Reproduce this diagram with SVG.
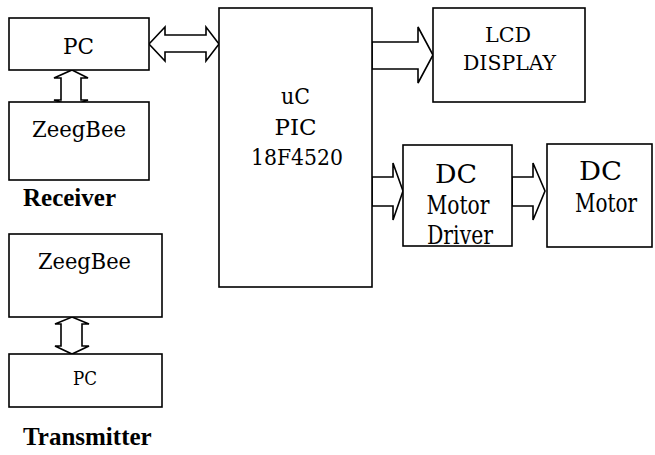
<svg xmlns="http://www.w3.org/2000/svg" width="655" height="455" viewBox="0 0 655 455">
<style>
.box{fill:#fff;stroke:#000;stroke-width:1.6}
.arr{fill:#fff;stroke:#000;stroke-width:1.6;stroke-linejoin:miter}
text{fill:#000;text-anchor:middle;font-family:'DejaVu Serif Condensed','DejaVu Serif',serif}
.b{font-family:'Liberation Serif','Times New Roman',serif;font-weight:bold;text-anchor:start}
</style>
<rect width="655" height="455" fill="#fff"/>
<g id="connectors">
<polygon class="arr" points="149,44 165,27 165,35 206,35 206,27 219,44 206,61 206,52 165,52 165,61"/>
<polygon class="arr" points="372,42 418,42 418,27 433,55 418,83 418,69 372,69"/>
<polygon class="arr" points="372,177 393,177 393,163 403,191 393,220 393,206 372,206"/>
<polygon class="arr" points="512,177 533,177 533,163 545,191 533,220 533,206 512,206"/>
<polygon class="arr" points="72,70 88,78 81,78 81,100 88,100 72,106 54,100 61,100 61,78 54,78"/>
<polygon class="arr" points="72,317 89,324 82,324 82,346 89,346 72,354 55,346 61,346 61,324 55,324"/>
</g>
<g id="pc-rx"><rect class="box" x="9" y="18" width="140" height="52"/><text x="78.5" y="54" font-size="22" textLength="31" lengthAdjust="spacingAndGlyphs">PC</text></g>
<g id="zeegbee-rx"><rect class="box" x="9" y="102" width="140" height="78"/><text x="79" y="137" font-size="21.5" textLength="94" lengthAdjust="spacingAndGlyphs">ZeegBee</text></g>
<g id="receiver-label"><text class="b" x="23" y="206" font-size="25">Receiver</text></g>
<g id="uc"><rect class="box" x="219" y="8" width="153" height="279"/><text x="295.5" y="104" font-size="23" textLength="29" lengthAdjust="spacingAndGlyphs">uC</text><text x="295.5" y="135" font-size="23" textLength="42" lengthAdjust="spacingAndGlyphs">PIC</text><text x="297" y="165" font-size="23" textLength="92" lengthAdjust="spacingAndGlyphs">18F4520</text></g>
<g id="lcd"><rect class="box" x="433" y="8" width="152" height="94"/><text x="508" y="42" font-size="20.5" textLength="46" lengthAdjust="spacingAndGlyphs">LCD</text><text x="509.5" y="70" font-size="20.5" textLength="93" lengthAdjust="spacingAndGlyphs">DISPLAY</text></g>
<g id="driver"><rect class="box" x="403" y="145" width="109" height="101"/><text x="456" y="183" font-size="26" textLength="42" lengthAdjust="spacingAndGlyphs">DC</text><text x="458" y="214" font-size="26" textLength="63" lengthAdjust="spacingAndGlyphs">Motor</text><text x="460" y="244" font-size="26" textLength="66" lengthAdjust="spacingAndGlyphs">Driver</text></g>
<g id="motor"><rect class="box" x="547" y="144" width="105" height="103"/><text x="600.5" y="180" font-size="26" textLength="43" lengthAdjust="spacingAndGlyphs">DC</text><text x="606" y="212" font-size="26" textLength="62" lengthAdjust="spacingAndGlyphs">Motor</text></g>
<g id="zeegbee-tx"><rect class="box" x="9" y="234" width="153" height="83"/><text x="84.5" y="269" font-size="21.5" textLength="93" lengthAdjust="spacingAndGlyphs">ZeegBee</text></g>
<g id="pc-tx"><rect class="box" x="9" y="354" width="153" height="53"/><text x="85" y="385" font-size="18" textLength="24" lengthAdjust="spacingAndGlyphs">PC</text></g>
<g id="transmitter-label"><text class="b" x="23" y="445" font-size="25">Transmitter</text></g>
</svg>
